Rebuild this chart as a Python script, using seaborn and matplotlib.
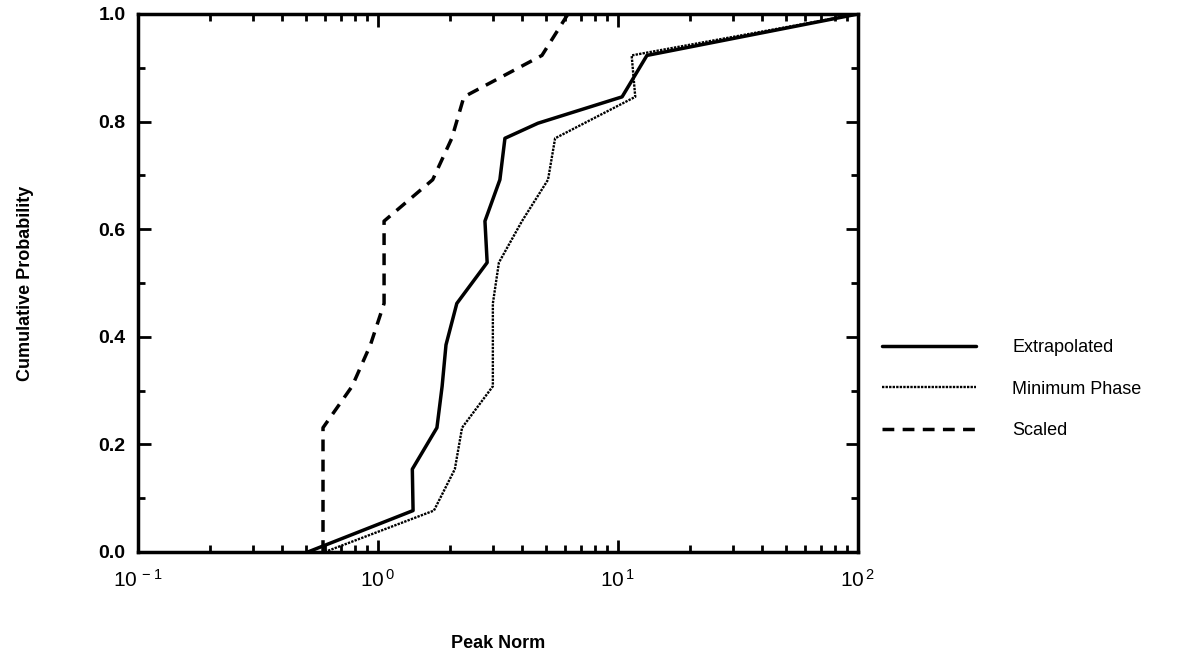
import matplotlib
matplotlib.use("Agg")
import matplotlib.pyplot as plt
import matplotlib.ticker as mticker
import numpy as np
import pandas as pd
import seaborn as sns

# Cumulative probability levels shared by the three estimates
prob_levels = [0.0, 0.077, 0.154, 0.231, 0.308, 0.385, 0.462, 0.538,
               0.615, 0.692, 0.769, 0.846, 0.923, 1.0]

# Extrapolated (has one extra bend between 0.769 and 0.846)
extrap_norm = [0.51, 1.40, 1.39, 1.76, 1.85, 1.92, 2.13, 2.85, 2.79, 3.22,
               3.38, 4.64, 10.4, 13.2, 100.0]
extrap_prob = [0.0, 0.077, 0.154, 0.231, 0.308, 0.385, 0.462, 0.538, 0.615,
               0.692, 0.769, 0.797, 0.846, 0.923, 1.0]

# Minimum phase
minphase_norm = [0.60, 1.71, 2.09, 2.24, 3.01, 3.01, 3.01, 3.19, 3.98, 5.11,
                 5.47, 11.8, 11.4, 100.0]

# Scaled
scaled_norm = [0.59, 0.59, 0.59, 0.59, 0.78, 0.93, 1.06, 1.06, 1.06, 1.69,
               2.03, 2.28, 4.82, 6.19]

series_names = ["Extrapolated", "Minimum Phase", "Scaled"]
y_ticks = [0.0, 0.2, 0.4, 0.6, 0.8, 1.0]
x_ticks = [0.1, 1.0, 10.0, 100.0]
x_tick_labels = [r"10$^{\,-1}$", r"10$^{\,0}$", r"10$^{\,1}$", r"10$^{\,2}$"]

sns.set_style("ticks")
plt.rcParams["font.family"] = ["Liberation Sans", "DejaVu Sans"]
plt.rcParams["mathtext.default"] = "regular"
plt.rcParams["text.color"] = "black"
plt.rcParams["axes.labelcolor"] = "black"
plt.rcParams["xtick.color"] = "black"
plt.rcParams["ytick.color"] = "black"

fig = plt.figure(figsize=(11.89, 6.57), dpi=100)
ax = fig.add_axes([138 / 1189, 1 - 552 / 657, 720 / 1189, 538 / 657])

df_ext = pd.DataFrame({"norm": extrap_norm, "prob": extrap_prob})
df_min = pd.DataFrame({"norm": minphase_norm, "prob": prob_levels})
df_sca = pd.DataFrame({"norm": scaled_norm, "prob": prob_levels})

sns.lineplot(data=df_ext, x="norm", y="prob", ax=ax, sort=False,
             estimator=None, color="black", linewidth=2.5,
             label=series_names[0])
sns.lineplot(data=df_min, x="norm", y="prob", ax=ax, sort=False,
             estimator=None, color="black", linewidth=1.7,
             linestyle=(0, (1.0, 0.5)), label=series_names[1])
sns.lineplot(data=df_sca, x="norm", y="prob", ax=ax, sort=False,
             estimator=None, color="black", linewidth=2.5,
             linestyle=(0, (3.4, 2.4)), label=series_names[2])

ax.set_xscale("log")
ax.set_xlim(0.1, 100)
ax.set_ylim(0, 1.0)

ax.set_xticks(x_ticks)
ax.set_xticklabels(x_tick_labels, fontsize=15)
ax.xaxis.set_minor_locator(mticker.LogLocator(base=10, subs=np.arange(2, 10)))
ax.xaxis.set_minor_formatter(mticker.NullFormatter())
ax.set_yticks(y_ticks)
ax.set_yticklabels([f"{v:.1f}" for v in y_ticks], fontsize=14,
                   fontweight="bold")
ax.yaxis.set_minor_locator(mticker.MultipleLocator(0.1))

ax.tick_params(which="both", direction="in", top=True, right=True,
               width=2.0, color="black")
ax.tick_params(which="major", length=9)
ax.tick_params(which="minor", length=5)
ax.tick_params(axis="y", which="major", pad=9)
ax.tick_params(axis="x", which="major", pad=12)

for sp in ax.spines.values():
    sp.set_linewidth(2.5)
    sp.set_color("black")
    sp.set_visible(True)

ax.set_xlabel("Peak Norm", fontsize=13, fontweight="bold", labelpad=32)
ax.set_ylabel("Cumulative Probability", fontsize=13, fontweight="bold",
              labelpad=46)

handles, labels = ax.get_legend_handles_labels()
ax.legend(handles, labels, loc="center left",
          bbox_to_anchor=(882 / 1189, 1 - 389 / 657),
          bbox_transform=fig.transFigure, frameon=False, fontsize=13,
          handlelength=5.2, handletextpad=2.0, labelspacing=1.35,
          borderpad=0, borderaxespad=0)

fig.savefig("out.png", dpi=100)
